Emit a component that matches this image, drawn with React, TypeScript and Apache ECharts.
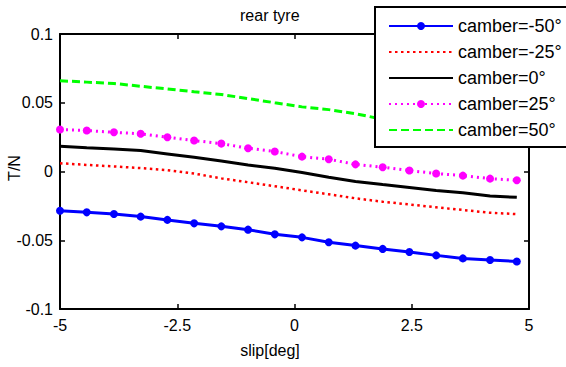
import React, { useEffect, useRef } from "react";
import * as echarts from "echarts";

const slipDeg = [-5, -4.43, -3.85, -3.28, -2.71, -2.14, -1.56, -0.99, -0.42, 0.16, 0.73, 1.3, 1.88, 2.45, 3.02, 3.59, 4.17, 4.74];

const camberM50 = [-0.0285, -0.0297, -0.0309, -0.0328, -0.0352, -0.0377, -0.0399, -0.0423, -0.0457, -0.0479, -0.0515, -0.0539, -0.0563, -0.0585, -0.061, -0.0632, -0.0644, -0.0654];
const camberM25 = [0.006, 0.0048, 0.0037, 0.0025, 0.001, -0.0015, -0.005, -0.0078, -0.0107, -0.0137, -0.0166, -0.0195, -0.022, -0.024, -0.026, -0.028, -0.03, -0.031];
const camber0 = [0.0183, 0.0172, 0.0163, 0.0152, 0.0128, 0.0103, 0.0077, 0.0048, 0.0023, -0.0008, -0.0042, -0.0072, -0.0095, -0.0117, -0.0139, -0.0155, -0.0178, -0.0188];
const camber25 = [0.0305, 0.0298, 0.0285, 0.0274, 0.0249, 0.0225, 0.0203, 0.0169, 0.0145, 0.0108, 0.0089, 0.0052, 0.0031, 0.0007, -0.0015, -0.003, -0.0052, -0.0064];
const camber50 = [0.066, 0.065, 0.064, 0.062, 0.06, 0.058, 0.056, 0.053, 0.05, 0.047, 0.045, 0.042, 0.038, 0.035, 0.032, 0.029, 0.026, 0.023];

const seriesNames = ["camber=-50°", "camber=-25°", "camber=0°", "camber=25°", "camber=50°"];
const markerSeries = [true, false, false, true, false];
const titleText = "rear tyre";
const xName = "slip[deg]";
const yName = "T/N";

const FONT = "Liberation Sans, Arial, sans-serif";

function pairs(ys: number[]) {
  return slipDeg.map((x, i) => [x, ys[i]]);
}

export default function App() {
  const ref = useRef<HTMLDivElement>(null);
  useEffect(() => {
    if (!ref.current) return;
    const chart = echarts.init(ref.current, null, { renderer: "svg" });
    const axisCommon = {
      axisLine: { show: true, onZero: false, lineStyle: { color: "#000", width: 2 } },
      axisTick: { show: true, inside: true, length: 5, lineStyle: { color: "#000", width: 1.5 } },
      splitLine: { show: false },
    };
    const labelStyle = { color: "#000", fontSize: 16, fontFamily: FONT };
    chart.setOption({
      animation: false,
      backgroundColor: "#fff",
      grid: { left: 60, right: 37, top: 34, bottom: 58, containLabel: false },
      xAxis: [
        {
          type: "value", min: -5, max: 5, interval: 2.5, position: "bottom",
          ...axisCommon,
          axisLabel: { ...labelStyle, margin: 8 },
        },
        {
          type: "value", min: -5, max: 5, interval: 2.5, position: "top",
          ...axisCommon,
          axisLabel: { show: false },
        },
      ],
      yAxis: [
        {
          type: "value", min: -0.1, max: 0.1, interval: 0.05, position: "left",
          ...axisCommon,
          axisLabel: { ...labelStyle, margin: 7 },
        },
        {
          type: "value", min: -0.1, max: 0.1, interval: 0.05, position: "right",
          ...axisCommon,
          axisLabel: { show: false },
        },
      ],
      legend: {
        orient: "vertical",
        left: 375,
        top: 7,
        padding: [10, 60, 8, 13],
        itemWidth: 64,
        itemHeight: 10,
        itemGap: 8,
        backgroundColor: "#fff",
        borderColor: "#000",
        borderWidth: 2,
        borderRadius: 0,
        textStyle: { color: "#000", fontSize: 18, fontFamily: FONT },
        data: seriesNames.map((n, i) =>
          markerSeries[i] ? { name: n } : { name: n, itemStyle: { opacity: 0 } }
        ),
        z: 10,
      },
      graphic: [
        {
          type: "text", left: 240, top: 7, z: 5,
          style: { text: titleText, font: `16px ${FONT}`, fill: "#000" },
        },
        {
          type: "text", x: 270, y: 350, z: 5,
          style: { text: xName, font: `16px ${FONT}`, fill: "#000", textAlign: "center", textVerticalAlign: "middle" },
        },
        {
          type: "text", x: 14, y: 168, rotation: Math.PI / 2, z: 5,
          style: { text: yName, font: `16px ${FONT}`, fill: "#000", textAlign: "center", textVerticalAlign: "middle" },
        },
      ],
      series: [
        {
          name: seriesNames[0], type: "line", data: pairs(camberM50),
          symbol: "circle", symbolSize: 8, showSymbol: true,
          lineStyle: { color: "#0000ff", width: 3 },
          itemStyle: { color: "#0000ff" },
        },
        {
          name: seriesNames[1], type: "line", data: pairs(camberM25),
          symbol: "none",
          lineStyle: { color: "#ff0000", width: 2.5, type: [2.5, 3.5] },
          itemStyle: { color: "#ff0000" },
        },
        {
          name: seriesNames[2], type: "line", data: pairs(camber0),
          symbol: "none",
          lineStyle: { color: "#000000", width: 3 },
          itemStyle: { color: "#000000" },
        },
        {
          name: seriesNames[3], type: "line", data: pairs(camber25),
          symbol: "circle", symbolSize: 8, showSymbol: true,
          lineStyle: { color: "#ff00ff", width: 3, type: [2, 4] },
          itemStyle: { color: "#ff00ff" },
        },
        {
          name: seriesNames[4], type: "line", data: pairs(camber50),
          symbol: "none",
          lineStyle: { color: "#00ff00", width: 3, type: [8, 4] },
          itemStyle: { color: "#00ff00" },
        },
      ],
    });
    return () => chart.dispose();
  }, []);
  return <div ref={ref} style={{ width: 566, height: 367, position: "absolute", left: 0, top: 0 }} />;
}
